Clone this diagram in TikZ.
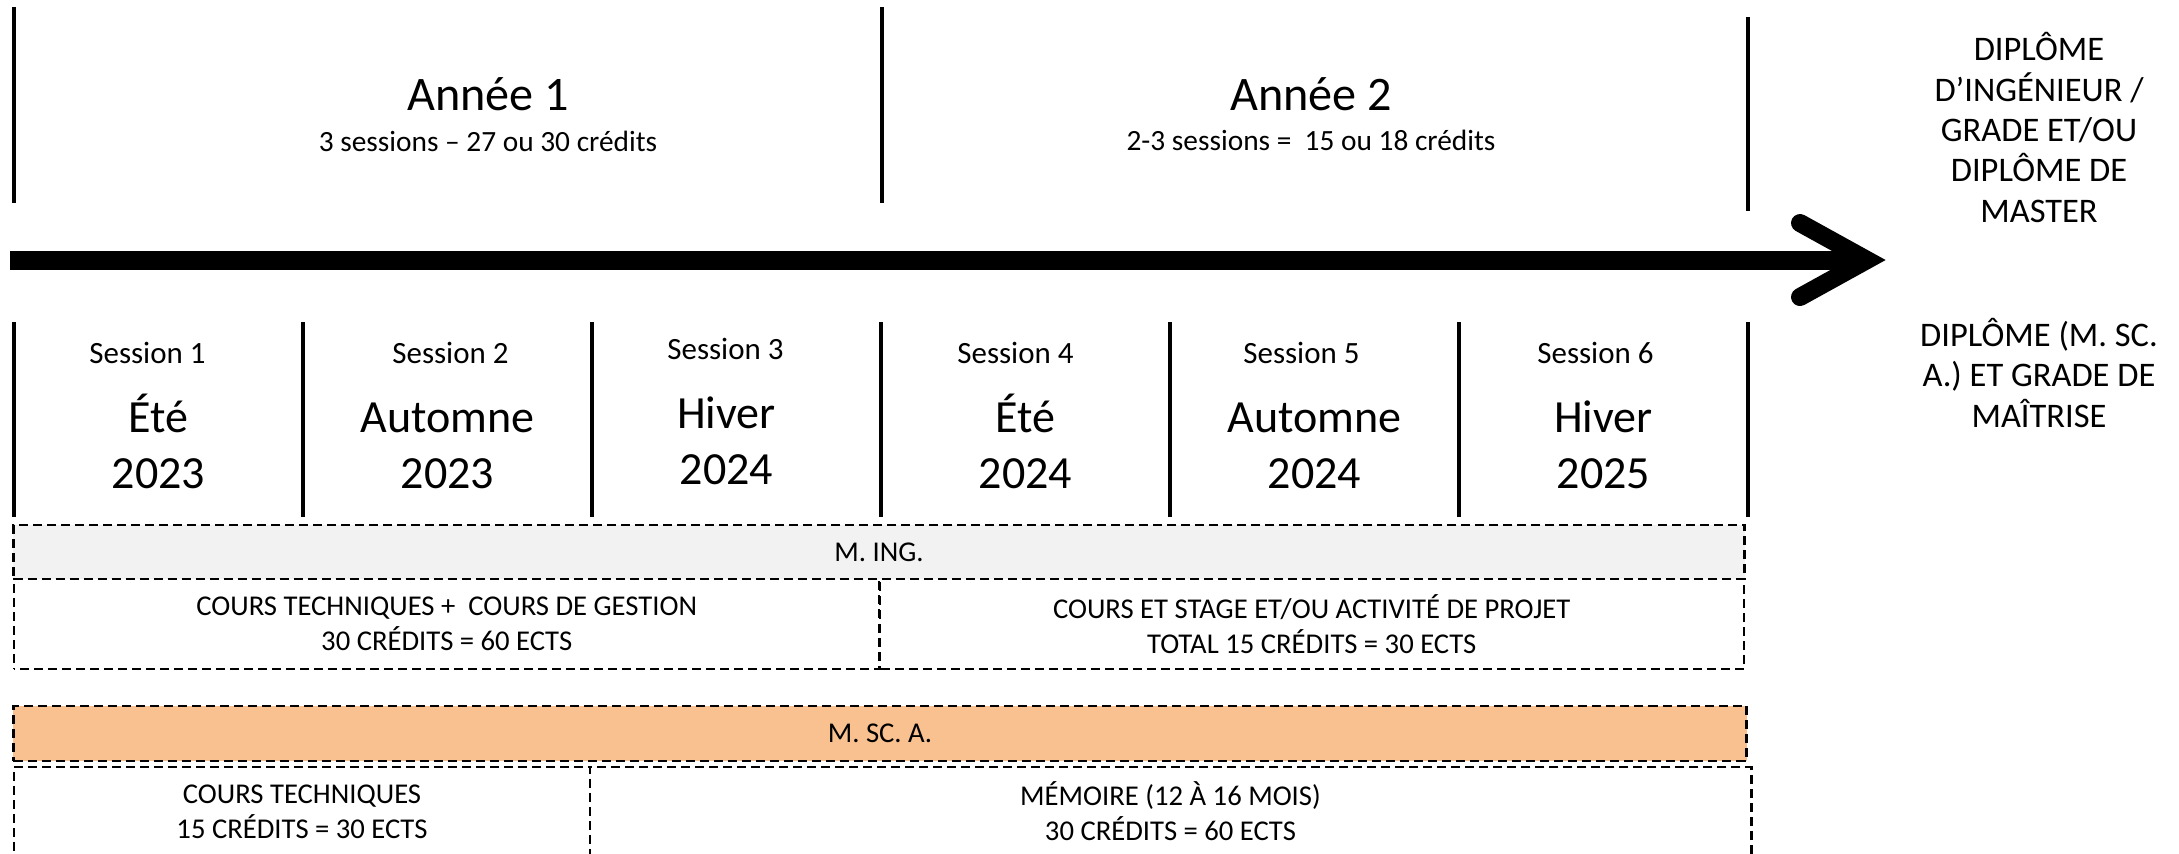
\documentclass[tikz,border=0pt]{standalone}
\usepackage{fontspec}
\setmainfont{Carlito}

\definecolor{inggray}{HTML}{F2F2F2}
\definecolor{mscorange}{HTML}{F8C18F}

\begin{document}
\begin{tikzpicture}[x=0.01cm, y=-0.01cm,
  tick/.style={line width=0.045cm},
  yeartitle/.style={anchor=base, inner sep=0pt, font=\fontsize{13.7}{16}\selectfont},
  yearsub/.style={anchor=base, inner sep=0pt, font=\fontsize{8.35}{10}\selectfont},
  sesslabel/.style={anchor=base, inner sep=0pt, font=\fontsize{8.8}{10}\selectfont},
  sessname/.style={anchor=base, inner sep=0pt, font=\fontsize{13.1}{15.6}\selectfont},
  diploma/.style={anchor=south, inner sep=0pt, align=center, font=\fontsize{9.8}{11.47}\selectfont},
  progbox/.style={draw, line width=0.023cm, dash pattern=on 0.09cm off 0.05cm,
    inner sep=0pt, align=center, font=\fontsize{8.15}{9.96}\selectfont}]

\useasboundingbox (0,0) rectangle (2179,853);

% Year separators
\draw[tick] (14,7) -- (14,203);
\draw[tick] (882,7) -- (882,203);
\draw[tick] (1748,17) -- (1748,211);

% Year labels
\node[yeartitle] (y1) at (488,110) {Année 1};
\node[yearsub] (y1-sub) at (488,151) {3 sessions – 27 ou 30 crédits};
\node[yeartitle] (y2) at (1311,110) {Année 2};
\node[yearsub] (y2-sub) at (1311,150) {2-3 sessions = \ 15 ou 18 crédits};

% Time axis
\coordinate (axis-start) at (10,260);
\coordinate (axis-end) at (1867,260);
\coordinate (head-top) at (1800,223);
\coordinate (head-bot) at (1800,297);
\draw[line width=0.19cm] (axis-start) -- (axis-end);
\draw[line width=0.18cm, line cap=round, miter limit=10] (head-top) -- (axis-end) -- (head-bot);

% Session separators
\foreach \k in {0,...,6}
  \draw[tick] (14+289*\k,322) -- (14+289*\k,517);

% Sessions
\foreach \i/\sea/\yr/\lx/\dx/\dy in {1/Été/2023/-11/0/0, 2/Automne/2023/3/0/0,
    3/Hiver/2024/-11/-10/-4, 4/Été/2024/-10/0/0, 5/Automne/2024/-13/0/0, 6/Hiver/2025/-8/0/0} {
  \node[sesslabel] (s\i-lab) at (-130.5+289*\i+\lx,363+\dy) {Session \i};
  \node[sessname] (s\i-sea) at (-130.5+289*\i+\dx,432+\dy) {\sea};
  \node[sessname] (s\i-yr) at (-130.5+289*\i+\dx,488+\dy) {\yr};
}

% M. ING. track (dash phases keep the shared edges on one dash grid)
\node[progbox, fill=inggray, minimum width=17.30cm, minimum height=0.54cm] (ming) at (879,552) {M. ING.};
\node[progbox, dash phase=0.08cm, minimum width=8.655cm, minimum height=0.90cm] (ming-a) at (446.75,624)
  {COURS TECHNIQUES + \ COURS DE GESTION\\30 CRÉDITS = 60 ECTS};
\node[progbox, dash phase=0.125cm, minimum width=8.645cm, minimum height=0.90cm] (ming-b) at (1311.75,624)
  {COURS ET STAGE ET/OU ACTIVITÉ DE PROJET\\TOTAL 15 CRÉDITS = 30 ECTS};

% M. SC. A. track
\node[progbox, fill=mscorange, minimum width=17.32cm, minimum height=0.55cm] (msca) at (880,733.5) {M. SC. A.};
\node[progbox, minimum width=5.76cm, minimum height=0.89cm] (msca-a) at (302,811.5)
  {COURS TECHNIQUES\\15 CRÉDITS = 30 ECTS};
\node[progbox, dash phase=0.13cm, minimum width=11.61cm, minimum height=0.89cm] (msca-b) at (1170.5,811.5)
  {MÉMOIRE (12 À 16 MOIS)\\30 CRÉDITS = 60 ECTS};

% Diplomas
\node[diploma] (dipl-ing) at (2039,223) {DIPLÔME\\D’INGÉNIEUR /\\GRADE ET/OU\\DIPLÔME DE\\MASTER};
\node[diploma] (dipl-msc) at (2039,428) {DIPLÔME (M. SC.\\A.) ET GRADE DE\\MAÎTRISE};

\end{tikzpicture}
\end{document}
